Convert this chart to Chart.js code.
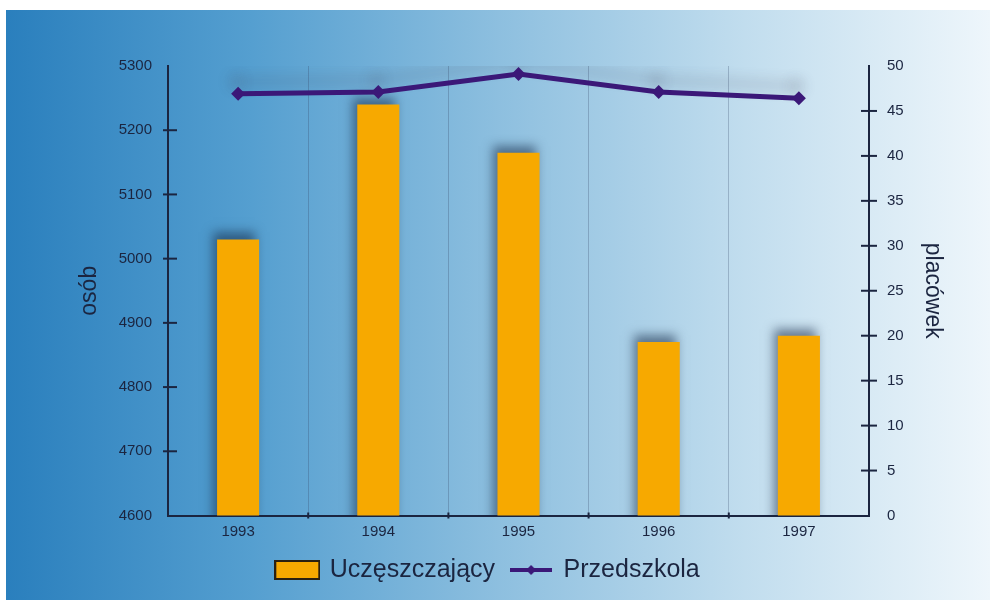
<!DOCTYPE html>
<html>
<head>
<meta charset="utf-8">
<script src="https://cdn.jsdelivr.net/npm/chart.js@4.4.1/dist/chart.umd.min.js"></script>
<style>
  html, body { margin: 0; padding: 0; background: #fff; }
  #wrap { width: 994px; height: 603px; }
</style>
</head>
<body>
<div id="wrap"><canvas id="chart" width="994" height="603"></canvas></div>
<script>
// Data
const years = ["1993", "1994", "1995", "1996", "1997"];
const attendees = [5030, 5240, 5165, 4870, 4880];     // osób (left axis)
const kindergartens = [46.9, 47.1, 49.1, 47.1, 46.4]; // placówek (right axis)

const leftMin = 4600, leftMax = 5300, leftStep = 100;
const rightMin = 0, rightMax = 50, rightStep = 5;

const INK = "#1b2540";
const BAR_COLOR = "#f7a900";
const LINE_COLOR = "#3b1878";
const FONT = "'Liberation Sans', Arial, sans-serif";

Chart.defaults.font.family = FONT;
Chart.defaults.color = INK;

// Legend symbols
function makeBarSymbol() {
  const c = document.createElement("canvas");
  c.width = 46; c.height = 20;
  const g = c.getContext("2d");
  g.fillStyle = BAR_COLOR;
  g.fillRect(1, 1, 44, 18);
  g.strokeStyle = "#2a2010";
  g.lineWidth = 2;
  g.strokeRect(1, 1, 44, 18);
  return c;
}

function makeLineSymbol() {
  const c = document.createElement("canvas");
  c.width = 42; c.height = 14;
  const g = c.getContext("2d");
  g.strokeStyle = LINE_COLOR;
  g.lineWidth = 4;
  g.beginPath();
  g.moveTo(0, 7); g.lineTo(42, 7);
  g.stroke();
  g.fillStyle = LINE_COLOR;
  g.beginPath();
  g.moveTo(21, 2); g.lineTo(26, 7); g.lineTo(21, 12); g.lineTo(16, 7);
  g.closePath();
  g.fill();
  return c;
}

const legendSymbols = [makeBarSymbol(), makeLineSymbol()];

// Gradient background with white frame
const backdrop = {
  id: "backdrop",
  beforeDraw(chart) {
    const { ctx, width, height } = chart;
    ctx.save();
    ctx.fillStyle = "#ffffff";
    ctx.fillRect(0, 0, width, height);
    const grad = ctx.createLinearGradient(6, 0, 990, 0);
    grad.addColorStop(0, "#2a7fbd");
    grad.addColorStop(0.25, "#559fd0");
    grad.addColorStop(0.5, "#8dbfdf");
    grad.addColorStop(0.75, "#c1ddee");
    grad.addColorStop(1, "#eef6fb");
    ctx.fillStyle = grad;
    ctx.fillRect(6, 10, 984, 590);
    ctx.restore();
  }
};

// Soft shadows behind the bars and the line
const shadows = {
  id: "shadows",
  beforeDatasetDraw(chart, args) {
    const ctx = chart.ctx;
    ctx.save();
    if (args.meta.type === "bar") {
      ctx.shadowColor = "rgba(20, 40, 70, 0.55)";
      ctx.shadowBlur = 10;
      ctx.shadowOffsetX = -4;
      ctx.shadowOffsetY = -7;
    } else {
      ctx.shadowColor = "rgba(70, 70, 90, 0.3)";
      ctx.shadowBlur = 14;
      ctx.shadowOffsetX = -2;
      ctx.shadowOffsetY = -12;
    }
  },
  afterDatasetDraw(chart) {
    chart.ctx.restore();
  }
};

// Tick marks crossing the axis lines
const crossTicks = {
  id: "crossTicks",
  afterDraw(chart) {
    const { ctx, scales } = chart;
    ctx.save();
    ctx.strokeStyle = INK;
    ctx.lineWidth = 2;
    const yl = scales.y, yr = scales.y1, x = scales.x;
    yl.ticks.forEach((t) => {
      if (t.value === leftMin || t.value === leftMax) return;
      const py = yl.getPixelForValue(t.value);
      ctx.beginPath(); ctx.moveTo(yl.right - 5, py); ctx.lineTo(yl.right + 9, py); ctx.stroke();
    });
    yr.ticks.forEach((t) => {
      if (t.value === rightMin || t.value === rightMax) return;
      const py = yr.getPixelForValue(t.value);
      ctx.beginPath(); ctx.moveTo(yr.left - 8, py); ctx.lineTo(yr.left + 8, py); ctx.stroke();
    });
    for (let i = 1; i < years.length; i++) {
      const px = (x.getPixelForTick(i - 1) + x.getPixelForTick(i)) / 2;
      ctx.beginPath(); ctx.moveTo(px, x.top - 3); ctx.lineTo(px, x.top + 3); ctx.stroke();
    }
    ctx.restore();
  }
};

const plainNumber = (v) => String(v);

new Chart(document.getElementById("chart"), {
  data: {
    labels: years,
    datasets: [
      {
        type: "bar",
        label: "Uczęszczający",
        data: attendees,
        yAxisID: "y",
        backgroundColor: BAR_COLOR,
        borderWidth: 0,
        barPercentage: 0.3,
        categoryPercentage: 1,
        order: 2,
      },
      {
        type: "line",
        label: "Przedszkola",
        data: kindergartens,
        yAxisID: "y1",
        borderColor: LINE_COLOR,
        backgroundColor: LINE_COLOR,
        borderWidth: 5,
        pointStyle: "rectRot",
        pointRadius: 7,
        pointBorderWidth: 0,
        tension: 0,
        order: 1,
      },
    ],
  },
  options: {
    responsive: false,
    animation: false,
    layout: { padding: { top: 66, bottom: 10.5, left: 0, right: 17 } },
    plugins: {
      tooltip: { enabled: false },
      legend: {
        position: "bottom",
        labels: {
          usePointStyle: true,
          pointStyleWidth: 40,
          padding: 16,
          color: INK,
          font: { size: 25, family: FONT },
          generateLabels(chart) {
            return chart.data.datasets.map((ds, i) => ({
              text: ds.label,
              pointStyle: legendSymbols[i],
              fillStyle: "transparent",
              strokeStyle: "transparent",
              lineWidth: 0,
              fontColor: INK,
              datasetIndex: i,
              hidden: false,
            }));
          },
        },
      },
    },
    scales: {
      x: {
        offset: true,
        afterFit(scale) { scale.height = 26; },
        grid: {
          offset: true,
          drawTicks: false,
          color: "rgba(50, 70, 100, 0.28)",
          lineWidth: 1,
        },
        border: { display: true, color: INK, width: 2 },
        ticks: { padding: 7, color: INK, font: { size: 15 } },
      },
      y: {
        position: "left",
        min: leftMin,
        max: leftMax,
        afterFit(scale) { scale.width = 168; },
        grid: { display: false },
        border: { display: true, color: INK, width: 2 },
        ticks: { stepSize: leftStep, padding: 8, color: INK, font: { size: 15 }, callback: plainNumber },
        title: {
          display: true,
          text: "osób",
          color: INK,
          font: { size: 23 },
          padding: { top: 76, bottom: 0 },
        },
      },
      y1: {
        position: "right",
        min: rightMin,
        max: rightMax,
        afterFit(scale) { scale.width = 108; },
        grid: { display: false },
        border: { display: true, color: INK, width: 2 },
        ticks: { stepSize: rightStep, padding: 10, color: INK, font: { size: 15 }, callback: plainNumber },
        title: {
          display: true,
          text: "placówek",
          color: INK,
          font: { size: 23 },
          padding: { top: 31, bottom: 0 },
        },
      },
    },
  },
  plugins: [backdrop, shadows, crossTicks],
});
</script>
</body>
</html>
